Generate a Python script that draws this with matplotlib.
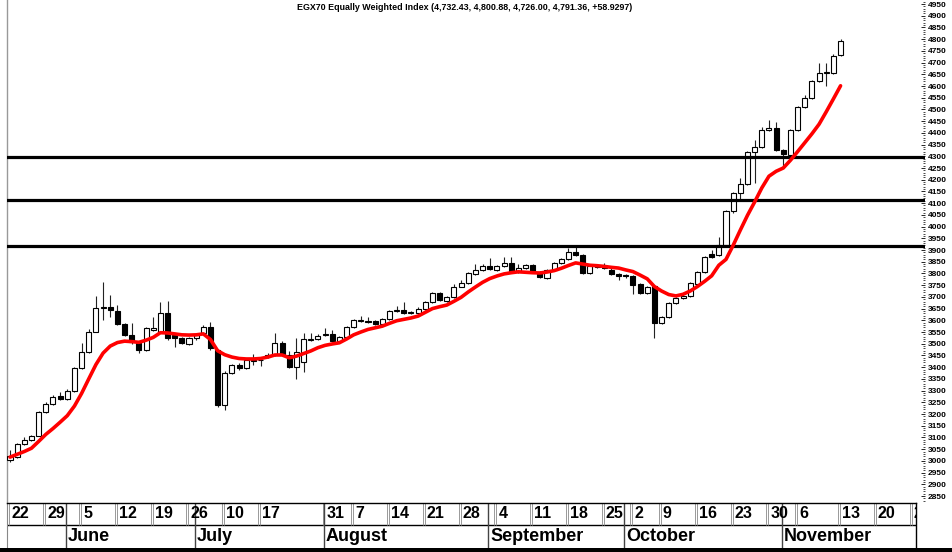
import matplotlib
matplotlib.use("Agg")
import matplotlib.pyplot as plt
import numpy as np
from matplotlib.patches import Rectangle

plt.rcParams['font.family'] = ['Liberation Sans', 'DejaVu Sans']

# ---------------- data ----------------
title = "EGX70 Equally Weighted Index (4,732.43, 4,800.88, 4,726.00, 4,791.36, +58.9297)"

opens = [3005, 3018, 3072, 3088, 3108, 3207, 3243, 3275, 3262, 3298,
         3395, 3464, 3552, 3652, 3656, 3640, 3585, 3537, 3502, 3473,
         3560, 3552, 3632, 3537, 3523, 3498, 3523, 3545, 3573, 3473,
         3239, 3377, 3410, 3396, 3428, 3431, 3442, 3452, 3502, 3452,
         3400, 3420, 3518, 3520, 3537, 3540, 3512, 3528, 3570, 3597,
         3596, 3598, 3584, 3604, 3638, 3644, 3630, 3630, 3647, 3678,
         3718, 3681, 3701, 3744, 3758, 3797, 3815, 3832, 3815, 3832,
         3846, 3808, 3824, 3835, 3808, 3780, 3815, 3843, 3860, 3893,
         3878, 3803, 3826, 3830, 3815, 3798, 3792, 3790, 3755, 3715,
         3745, 3587, 3613, 3673, 3694, 3705, 3755, 3808, 3882, 3880,
         3922, 4067, 4142, 4182, 4317, 4338, 4411, 4420, 4327, 4305,
         4412, 4512, 4548, 4620, 4656, 4657, 4732.43]

highs = [3047, 3076, 3102, 3112, 3213, 3250, 3280, 3295, 3307, 3400,
         3505, 3562, 3704, 3765, 3708, 3665, 3590, 3587, 3510, 3570,
         3615, 3680, 3684, 3545, 3530, 3530, 3540, 3580, 3594, 3478,
         3382, 3415, 3416, 3437, 3455, 3445, 3460, 3547, 3510, 3470,
         3523, 3545, 3545, 3540, 3565, 3560, 3532, 3574, 3604, 3620,
         3612, 3603, 3608, 3642, 3660, 3680, 3640, 3655, 3682, 3722,
         3722, 3705, 3757, 3770, 3806, 3840, 3840, 3865, 3836, 3872,
         3872, 3840, 3839, 3839, 3812, 3819, 3847, 3864, 3908, 3921,
         3882, 3836, 3840, 3845, 3823, 3802, 3798, 3794, 3760, 3745,
         3750, 3617, 3677, 3698, 3707, 3763, 3812, 3876, 3900, 3957,
         4071, 4146, 4206, 4322, 4370, 4426, 4455, 4445, 4331, 4416,
         4516, 4560, 4624, 4697, 4697, 4735, 4800.88]

lows = [2997, 3012, 3068, 3085, 3105, 3203, 3240, 3258, 3258, 3295,
        3392, 3460, 3548, 3601, 3615, 3580, 3532, 3500, 3462, 3468,
        3555, 3548, 3515, 3487, 3498, 3494, 3518, 3540, 3475, 3232,
        3217, 3372, 3388, 3392, 3410, 3405, 3438, 3448, 3452, 3395,
        3348, 3381, 3510, 3515, 3532, 3508, 3505, 3524, 3566, 3594,
        3590, 3582, 3580, 3600, 3634, 3626, 3626, 3626, 3643, 3674,
        3683, 3677, 3697, 3740, 3754, 3793, 3811, 3814, 3811, 3828,
        3804, 3804, 3820, 3804, 3780, 3776, 3811, 3839, 3856, 3876,
        3799, 3799, 3822, 3818, 3794, 3770, 3780, 3712, 3712, 3711,
        3523, 3583, 3609, 3669, 3690, 3700, 3751, 3804, 3868, 3876,
        3918, 4060, 4118, 4178, 4185, 4334, 4407, 4323, 4256, 4300,
        4408, 4508, 4544, 4616, 4600, 4653, 4726.00]

closes = [3022, 3072, 3088, 3108, 3207, 3243, 3272, 3262, 3300, 3395,
          3464, 3552, 3651, 3656, 3645, 3585, 3537, 3509, 3473, 3566,
          3566, 3630, 3523, 3523, 3502, 3523, 3537, 3573, 3480, 3239,
          3377, 3410, 3396, 3430, 3432, 3429, 3452, 3502, 3457, 3400,
          3466, 3519, 3522, 3535, 3541, 3512, 3528, 3570, 3600, 3600,
          3594, 3586, 3604, 3638, 3644, 3630, 3637, 3647, 3678, 3718,
          3687, 3701, 3744, 3758, 3801, 3815, 3832, 3818, 3832, 3846,
          3808, 3824, 3835, 3808, 3784, 3815, 3843, 3860, 3893, 3880,
          3803, 3832, 3832, 3823, 3798, 3790, 3789, 3750, 3715, 3740,
          3590, 3613, 3673, 3694, 3703, 3758, 3808, 3872, 3872, 3922,
          4067, 4142, 4182, 4317, 4338, 4411, 4420, 4327, 4309, 4412,
          4512, 4548, 4620, 4654, 4658, 4730, 4791.36]

moving_avg = [3016, 3028, 3040, 3054, 3083, 3113, 3138, 3165, 3193, 3234,
              3288, 3350, 3411, 3460, 3490, 3505, 3511, 3509, 3506, 3515,
              3527, 3547, 3546, 3542, 3538, 3537, 3538, 3542, 3518, 3470,
              3453, 3443, 3437, 3435, 3435, 3437, 3443, 3452, 3452, 3440,
              3447, 3458, 3469, 3483, 3493, 3499, 3504, 3520, 3538, 3550,
              3561, 3568, 3575, 3587, 3598, 3604, 3610, 3618, 3634, 3650,
              3658, 3665, 3681, 3698, 3721, 3742, 3762, 3778, 3789, 3798,
              3803, 3807, 3805, 3803, 3802, 3806, 3812, 3822, 3834, 3845,
              3840, 3835, 3833, 3830, 3826, 3823, 3815, 3808, 3793, 3777,
              3744, 3725, 3710, 3704, 3711, 3725, 3744, 3766, 3790, 3835,
              3860, 3920, 3985, 4048, 4105, 4165, 4215, 4236, 4250, 4283,
              4320, 4358, 4396, 4437, 4490, 4545, 4601]

levels = [4295, 4112, 3918]

week_labels = ['22', '29', '5', '12', '19', '26', '10', '17', '31', '7', '14', '21', '28',
               '4', '11', '18', '25', '2', '9', '16', '23', '30', '6', '13', '20', '27']
week_days = [0, 5, 10, 15, 20, 25, 30, 35, 44, 48, 53, 58, 63,
             68, 73, 78, 83, 87, 91, 96, 101, 106, 110, 116, 121, 126]

month_labels = ['June', 'July', 'August', 'September', 'October', 'November']
month_days = [8, 26, 44, 67, 86, 108]

y_ticks = list(range(2850, 4951, 50))

# ---------------- layout ----------------
W, H = 953, 552
X0, DX = 10.0, 7.16          # pixel x of first bar, pixels per bar
PL, PR, PB = 7, 925, 503     # plot left/right, plot bottom (pixels from top)
BR = 916                     # date band right edge
Y_TOP, Y_BOT = 4967.1, 2820.2

fig = plt.figure(figsize=(W / 100, H / 100), dpi=100)
fig.patch.set_facecolor('white')

ax = fig.add_axes([PL / W, (H - PB) / H, (PR - PL) / W, PB / H])
ax.set_xlim((PL - X0) / DX, (PR - X0) / DX)
ax.set_ylim(Y_BOT, Y_TOP)

o = np.array(opens, float)
h = np.array(highs, float)
l = np.array(lows, float)
c = np.array(closes, float)
days = np.arange(len(c))
up = c >= o

ax.vlines(days, l, h, color='#222222', lw=0.8, zorder=2)
bb = np.minimum(o, c)
bh = np.maximum(np.abs(c - o), 1.5)
ax.bar(days[up], bh[up], bottom=bb[up], width=0.7, facecolor='white',
       edgecolor='black', lw=0.8, zorder=3)
ax.bar(days[~up], bh[~up], bottom=bb[~up], width=0.7, facecolor='black',
       edgecolor='black', lw=0.8, zorder=3)

for v in levels:
    ax.axhline(v, color='black', lw=2.3, zorder=4)

ax.plot(days, moving_avg, color='#ff0000', lw=2.6, zorder=5,
        solid_capstyle='round', solid_joinstyle='round')

for s in ['top', 'bottom', 'right']:
    ax.spines[s].set_visible(False)
ax.spines['left'].set_color('#999999')
ax.spines['left'].set_linewidth(1.0)
ax.set_xticks([])
ax.yaxis.tick_right()
ax.set_yticks(y_ticks)
ax.set_yticklabels([str(v) for v in y_ticks], fontweight='bold', fontsize=6)
ax.set_yticks(np.arange(2830, 4961, 10), minor=True)
ax.tick_params(axis='y', which='major', direction='in', length=3.2, width=0.6,
               pad=2, colors='black')
ax.tick_params(axis='y', which='minor', direction='in', length=1.5, width=0.5)

fig.text(465 / W, 1 - 7 / H, title, ha='center', va='center', fontsize=6.4,
         fontweight='bold', family=['Liberation Sans Narrow', 'Liberation Sans'])

# ---------------- date band ----------------
bx = fig.add_axes([PL / W, 4 / H, (BR - PL) / W, (548 - 503) / H])
bx.set_xlim((PL - X0) / DX, (BR - X0) / DX)
bx.set_ylim(0, 1)
bx.set_xticks([])
bx.set_yticks([])
mid = (548 - 525) / 45
bx.spines['bottom'].set_visible(False)
bx.spines['top'].set_linewidth(1.0)
bx.spines['left'].set_color('#888888')
bx.spines['right'].set_linewidth(1.0)
bx.axhline(mid, color='black', lw=1.0)

for d, lab in zip(week_days, week_labels):
    bx.vlines([d - 0.35, d - 0.08], mid, 1, color='#999999', lw=0.7)
    bx.text(d + 0.2, (mid + 1) / 2, lab, ha='left', va='center', fontsize=11.5,
            fontweight='bold', clip_on=True,
            family=['Liberation Sans Narrow', 'Liberation Sans'])

for d, lab in zip(month_days, month_labels):
    bx.vlines(d - 0.2, 0, 1, color='#444444', lw=1.0)
    bx.text(d + 0.05, mid / 2, lab, ha='left', va='center', fontsize=13,
            fontweight='bold', clip_on=True,
            family=['Liberation Sans Narrow', 'Liberation Sans'])

fig.patches.append(Rectangle((0, 0), 1, 4.5 / H, transform=fig.transFigure,
                             facecolor='black', edgecolor='none'))

fig.savefig('out.png', dpi=100)
